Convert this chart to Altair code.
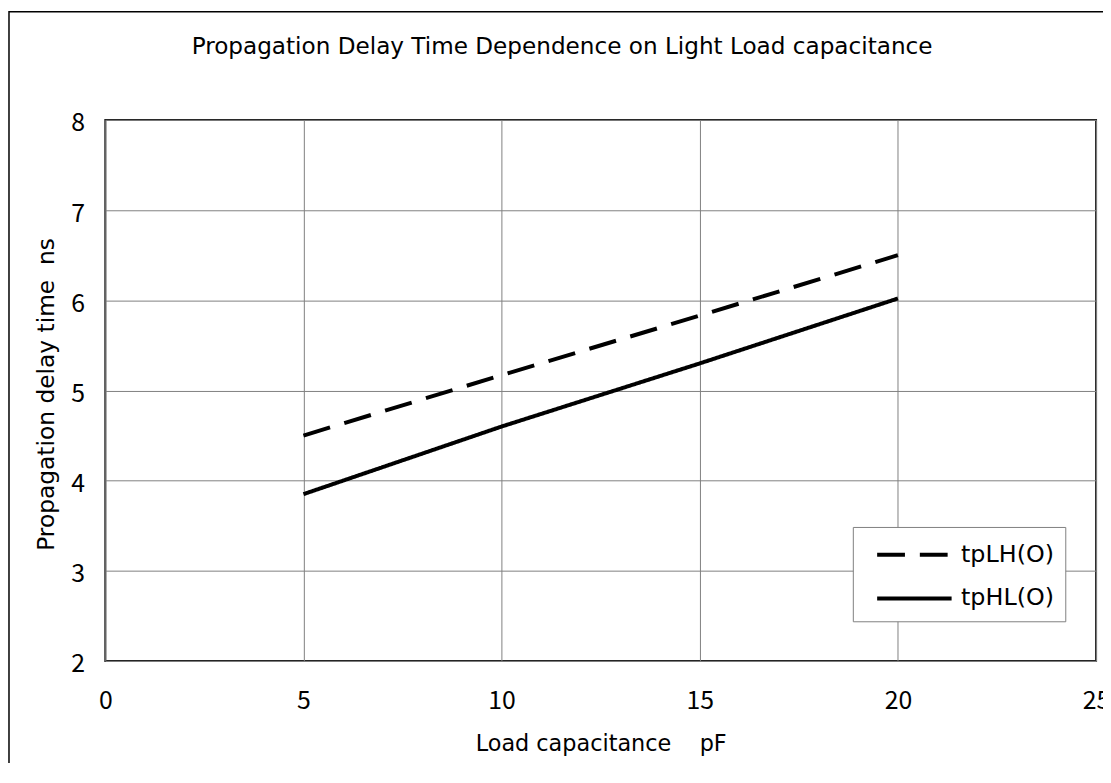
import altair as alt
import pandas as pd

# ---- data ----
load_pf = [5, 10, 15, 20]
tplh = [4.5, 5.17, 5.83, 6.5]
tphl = [3.85, 4.6, 5.3, 6.02]
series_names = ["tpLH(O)", "tpHL(O)"]
x_ticks = [0, 5, 10, 15, 20, 25]
y_ticks = [2, 3, 4, 5, 6, 7, 8]
chart_title = ["Propagation Delay Time Dependence on Light Load capacitance"]
x_title = "Load capacitance\u00a0\u00a0\u00a0\u00a0pF"
y_title = "Propagation delay time\u00a0\u00a0ns"

rows = []
for x, a, b in zip(load_pf, tplh, tphl):
    rows.append({"x": x, "y": a, "s": series_names[0]})
    rows.append({"x": x, "y": b, "s": series_names[1]})
df = pd.DataFrame(rows)

TXT = "DejaVu Sans"
NUM = "Noto Sans CJK JP"
W, H = 998, 545

x_enc = alt.X(
    "x:Q",
    scale=alt.Scale(domain=[0, 25], nice=False, zero=False),
    axis=alt.Axis(
        values=x_ticks, title=x_title, format="d",
        grid=True, gridColor="#808080", gridWidth=1, ticks=False, domain=False,
        labelFont=NUM, labelFontSize=25, labelColor="black", labelPadding=28,
        labelFlush=False, labelOverlap=False,
        titleFont=TXT, titleFontSize=22.5, titleFontWeight="normal", titleColor="black",
        titleX=W / 2, titleY=90, titleBaseline="alphabetic", titleAlign="center",
    ),
)
y_enc = alt.Y(
    "y:Q",
    scale=alt.Scale(domain=[2, 8], nice=False, zero=False),
    axis=alt.Axis(
        values=y_ticks, title=y_title, format="d",
        grid=True, gridColor="#808080", gridWidth=1, ticks=False, domain=False,
        labelFont=NUM, labelFontSize=25, labelColor="black", labelPadding=21,
        labelOffset=3, labelFlush=False, labelOverlap=False,
        titleFont=TXT, titleFontSize=23.5, titleFontWeight="normal", titleColor="black",
        titleX=-59, titleY=276, titleBaseline="middle", titleAlign="center",
        titleAngle=270,
    ),
)

lines = alt.Chart(df).mark_line(strokeWidth=4, color="black", clip=True).encode(
    x=x_enc,
    y=y_enc,
    strokeDash=alt.StrokeDash(
        "s:N",
        scale=alt.Scale(domain=series_names, range=[[28, 15], [1, 0]]),
        legend=alt.Legend(
            title=None, orient="none", legendX=753, legendY=410,
            fillColor="white", strokeColor="#808080", padding=11,
            symbolType="M-2.5,0H2.5", symbolStrokeWidth=4,
            symbolStrokeColor="black", symbolFillColor="transparent",
            symbolSize=900, symbolOffset=34, rowPadding=15,
            labelFont=TXT, labelFontSize=24, labelColor="black", labelOffset=30,
        ),
    ),
)

frame_df = pd.DataFrame({"k": [0]})
frame = alt.Chart(frame_df).mark_rect(
    fill=None, stroke="black", strokeWidth=1.5, clip=False
).encode(
    x=alt.value(-97), y=alt.value(-109), x2=alt.value(3000), y2=alt.value(3000)
)

title_df = pd.DataFrame({"t": chart_title})
title = alt.Chart(title_df).mark_text(
    align="left", baseline="alphabetic", font=TXT, fontSize=23.3,
    color="black", clip=False,
).encode(text="t:N", x=alt.value(87), y=alt.value(-66))

chart = alt.layer(frame, lines, title).properties(
    width=W, height=H,
    autosize=alt.AutoSizeParams(type="none"),
    padding={"left": 98, "top": 110, "right": 7, "bottom": 100},
).configure_view(stroke="#222222", strokeWidth=2)

chart.save("out.html", embed_options={"renderer": "svg", "actions": False})
